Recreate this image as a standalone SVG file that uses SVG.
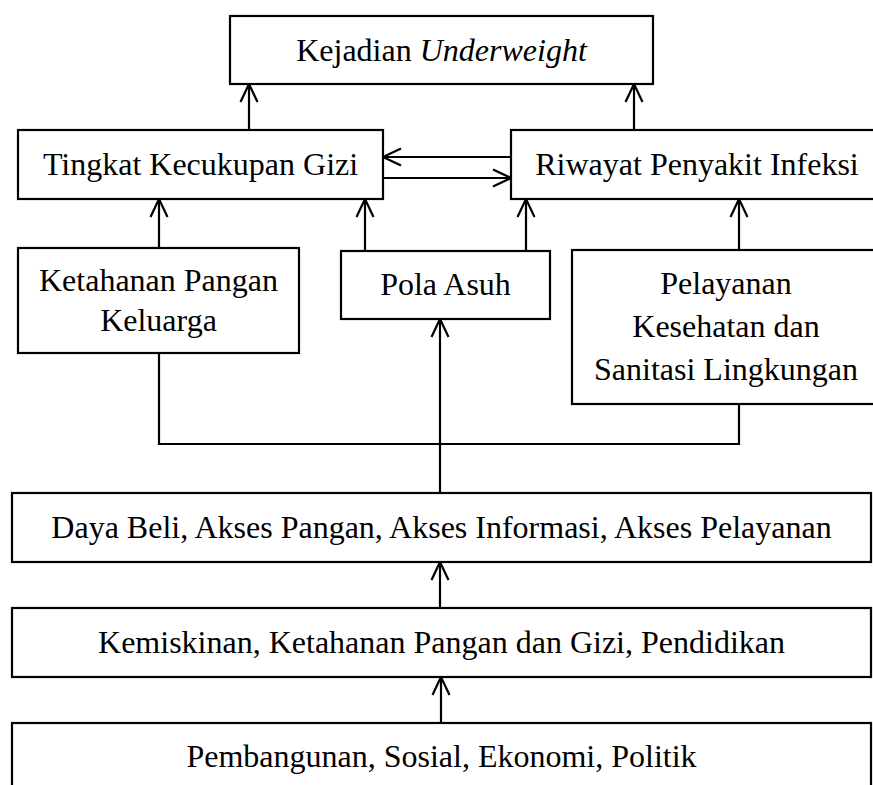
<svg xmlns="http://www.w3.org/2000/svg" width="873" height="785" viewBox="0 0 873 785">
<style>
.box{fill:#fff;stroke:#000;stroke-width:2.2}
.t{font-family:"Liberation Serif","Times New Roman",serif;font-size:32px;fill:#000;text-anchor:middle}
.c{fill:none;stroke:#000;stroke-width:2.2}
</style>
<defs>
<marker id="ah" viewBox="-20 -10 22 20" refX="0" refY="0" markerWidth="22" markerHeight="20" markerUnits="userSpaceOnUse" orient="auto">
<path d="M-18,-8.5 L0,0 L-18,8.5" fill="none" stroke="#000" stroke-width="2.2"/>
</marker>
</defs>
<rect width="873" height="785" fill="#fff"/>
<g id="connectors">
<line class="c" x1="249" y1="130" x2="249" y2="84" marker-end="url(#ah)"/>
<line class="c" x1="634" y1="130" x2="634" y2="84" marker-end="url(#ah)"/>
<line class="c" x1="511" y1="157" x2="383" y2="157" marker-end="url(#ah)"/>
<line class="c" x1="383" y1="178" x2="511" y2="178" marker-end="url(#ah)"/>
<line class="c" x1="159" y1="248" x2="159" y2="199" marker-end="url(#ah)"/>
<line class="c" x1="365" y1="251" x2="365" y2="199" marker-end="url(#ah)"/>
<line class="c" x1="526" y1="251" x2="526" y2="199" marker-end="url(#ah)"/>
<line class="c" x1="739" y1="250" x2="739" y2="199" marker-end="url(#ah)"/>
<polyline class="c" points="159,353 159,444 739,444 739,404"/>
<line class="c" x1="440" y1="493" x2="440" y2="319" marker-end="url(#ah)"/>
<line class="c" x1="440" y1="608" x2="440" y2="562" marker-end="url(#ah)"/>
<line class="c" x1="441" y1="723" x2="441" y2="677" marker-end="url(#ah)"/>
</g>
<g id="kejadian">
<rect class="box" x="230" y="16" width="423" height="68"/>
<text class="t" x="441.5" y="60.5">Kejadian <tspan font-style="italic">Underweight</tspan></text>
</g>
<g id="tingkat">
<rect class="box" x="18" y="130" width="365" height="69"/>
<text class="t" x="200.5" y="175">Tingkat Kecukupan Gizi</text>
</g>
<g id="riwayat">
<rect class="box" x="511" y="130" width="372" height="69"/>
<text class="t" x="697" y="175">Riwayat Penyakit Infeksi</text>
</g>
<g id="ketahanan">
<rect class="box" x="18" y="248" width="281" height="105"/>
<text class="t" x="158.5" y="291">Ketahanan Pangan</text>
<text class="t" x="158.5" y="331">Keluarga</text>
</g>
<g id="pola">
<rect class="box" x="341" y="251" width="209" height="68"/>
<text class="t" x="445.5" y="295">Pola Asuh</text>
</g>
<g id="pelayanan">
<rect class="box" x="572" y="250" width="310" height="154"/>
<text class="t" x="726" y="294">Pelayanan</text>
<text class="t" x="726" y="337">Kesehatan dan</text>
<text class="t" x="726" y="380">Sanitasi Lingkungan</text>
</g>
<g id="dayabeli">
<rect class="box" x="12" y="493" width="859" height="69"/>
<text class="t" x="441.5" y="538">Daya Beli, Akses Pangan, Akses Informasi, Akses Pelayanan</text>
</g>
<g id="kemiskinan">
<rect class="box" x="12" y="608" width="859" height="69"/>
<text class="t" x="441.5" y="653">Kemiskinan, Ketahanan Pangan dan Gizi, Pendidikan</text>
</g>
<g id="pembangunan">
<rect class="box" x="12" y="723" width="859" height="80"/>
<text class="t" x="441.5" y="767">Pembangunan, Sosial, Ekonomi, Politik</text>
</g>
</svg>
